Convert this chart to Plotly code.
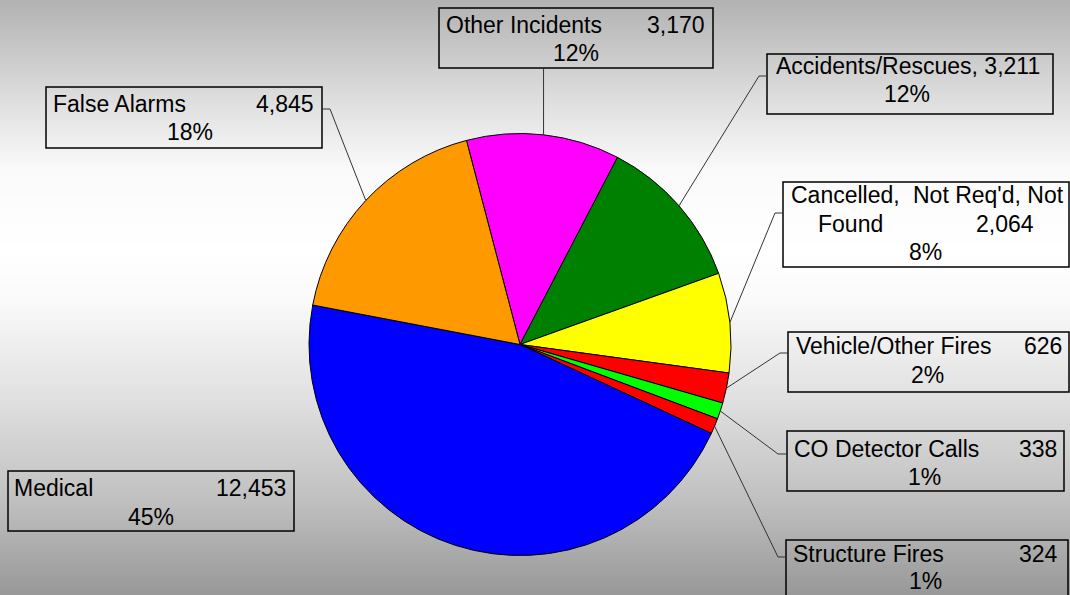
import math
import plotly.graph_objects as go

# ---------------- data ----------------
categories = ["Other Incidents", "Accidents/Rescues", "Cancelled, Not Req'd, Not Found",
              "Vehicle/Other Fires", "CO Detector Calls", "Structure Fires",
              "Medical", "False Alarms"]
values = [3170, 3211, 2064, 626, 338, 324, 12453, 4845]
value_labels = ["3,170", "3,211", "2,064", "626", "338", "324", "12,453", "4,845"]
pct_labels = ["12%", "12%", "8%", "2%", "1%", "1%", "45%", "18%"]
colors = ["#FF00FF", "#008000", "#FFFF00", "#FF0000", "#00FF00", "#FF0000", "#0000FF", "#FF9900"]

# ---------------- layout geometry (pixels) ----------------
W, H = 1070, 595
CX, CY, R = 520.0, 344.5, 211.0
ROTATION = -14.7

def px(x):
    return x / W

def py(y):
    return 1 - y / H

fig = go.Figure()
fig.add_trace(go.Pie(
    labels=categories, values=values, sort=False, direction="clockwise",
    rotation=ROTATION, textinfo="none", hoverinfo="label+value+percent",
    marker=dict(colors=colors, line=dict(color="#000000", width=1)),
    domain=dict(x=[px(CX - R), px(CX + R)], y=[py(CY + R), py(CY - R)]),
    showlegend=False,
))

shapes = []
# background vertical gradient
bg_stops = [(0, 178), (100, 222), (170, 250), (250, 255), (300, 250), (400, 224), (500, 192), (595, 152)]

def bg_gray(y):
    for (y0, g0), (y1, g1) in zip(bg_stops[:-1], bg_stops[1:]):
        if y0 <= y <= y1:
            return g0 + (g1 - g0) * (y - y0) / (y1 - y0)
    return bg_stops[-1][1]

step = 3
y = 0
while y < H:
    g = int(round(bg_gray(y + step / 2)))
    shapes.append(dict(type="rect", xref="paper", yref="paper", x0=0, x1=1,
                       y0=py(min(y + step, H) + 0.5), y1=py(y), layer="below",
                       fillcolor=f"rgb({g},{g},{g})", line=dict(width=0)))
    y += step

# label boxes: (x0, x1, y0, y1)
boxes = {
    "Other Incidents": (439, 713, 8, 68),
    "Accidents/Rescues": (767, 1053, 54, 114),
    "Cancelled, Not Req'd, Not Found": (783, 1069, 182, 267),
    "Vehicle/Other Fires": (788, 1069, 332, 392),
    "CO Detector Calls": (787, 1064, 431, 491),
    "Structure Fires": (786, 1068, 540, 600),
    "Medical": (8, 294, 471, 531),
    "False Alarms": (46, 322, 87, 148),
}
for name, (x0, x1, y0, y1) in boxes.items():
    shapes.append(dict(type="rect", xref="paper", yref="paper",
                       x0=px(x0), x1=px(x1), y0=py(y1), y1=py(y0),
                       line=dict(color="#000000", width=1.5), fillcolor="rgba(0,0,0,0)", layer="above"))

# leader anchors on boxes: (box_x, box_y, elbow_x) or ("vertical", box_bottom_y)
leaders = {
    "Other Incidents": ("vertical", 68),
    "Accidents/Rescues": (767, 76, 759),
    "Cancelled, Not Req'd, Not Found": (783, 213, 775),
    "Vehicle/Other Fires": (788, 353, 780),
    "CO Detector Calls": (787, 454, 778),
    "Structure Fires": (786, 557, 778),
    "False Alarms": (322, 109, 330),
}
total = float(sum(values))
ang = ROTATION
for name, v in zip(categories, values):
    span = v / total * 360.0
    mid = math.radians(ang + span / 2)
    ang += span
    if name not in leaders:
        continue
    ex, ey = CX + R * math.sin(mid), CY - R * math.cos(mid)
    spec = leaders[name]
    lc = dict(color="#333333", width=1)
    if spec[0] == "vertical":
        shapes.append(dict(type="line", xref="paper", yref="paper",
                           x0=px(ex), y0=py(ey), x1=px(ex), y1=py(spec[1]), line=lc))
    else:
        bx, by, elx = spec
        shapes.append(dict(type="line", xref="paper", yref="paper",
                           x0=px(ex), y0=py(ey), x1=px(elx), y1=py(by), line=lc))
        shapes.append(dict(type="line", xref="paper", yref="paper",
                           x0=px(elx), y0=py(by), x1=px(bx), y1=py(by), line=lc))

# text placement: list of (text, x, y, anchor)
cat_idx = {c: i for i, c in enumerate(categories)}
def V(c):
    return value_labels[cat_idx[c]]
def P(c):
    return pct_labels[cat_idx[c]]

texts = [
    ("Other Incidents", 445, 25, "left"), (V("Other Incidents"), 706, 25, "right"),
    (P("Other Incidents"), 576, 52.5, "center"),
    ("False Alarms", 52, 104, "left"), (V("False Alarms"), 315, 104, "right"),
    (P("False Alarms"), 190, 131.5, "center"),
    ("Accidents/Rescues, " + V("Accidents/Rescues"), 908, 66, "center"),
    (P("Accidents/Rescues"), 907, 94, "center"),
    ("Cancelled,", 790, 195, "left"), ("Not Req'd, Not", 1065, 195, "right"),
    ("Found", 817, 224, "left"), (V("Cancelled, Not Req'd, Not Found"), 1035, 224, "right"),
    (P("Cancelled, Not Req'd, Not Found"), 925, 252, "center"),
    ("Vehicle/Other Fires", 795, 346, "left"), (V("Vehicle/Other Fires"), 1063, 346, "right"),
    (P("Vehicle/Other Fires"), 927, 375, "center"),
    ("CO Detector Calls", 793, 448.5, "left"), (V("CO Detector Calls"), 1058, 448.5, "right"),
    (P("CO Detector Calls"), 924.5, 476.5, "center"),
    ("Structure Fires", 792, 554, "left"), (V("Structure Fires"), 1059, 554, "right"),
    (P("Structure Fires"), 925, 581, "center"),
    ("Medical", 13, 487.5, "left"), (V("Medical"), 287, 487.5, "right"),
    (P("Medical"), 150.5, 516.5, "center"),
]
annotations = []
for t, x, y, a in texts:
    annotations.append(dict(text=t, x=px(x), y=py(y), xref="paper", yref="paper",
                            xanchor=a, yanchor="middle", showarrow=False, borderpad=0,
                            font=dict(family="Liberation Sans, Arial, sans-serif", size=23, color="#000000")))

fig.update_layout(
    width=W, height=H, margin=dict(l=0, r=0, t=0, b=0),
    paper_bgcolor="#ffffff", plot_bgcolor="#ffffff",
    shapes=shapes, annotations=annotations, showlegend=False,
)
fig.write_html("out.html", config={"displayModeBar": False},
               post_script="document.body.style.margin='0';document.body.style.overflow='hidden';")
